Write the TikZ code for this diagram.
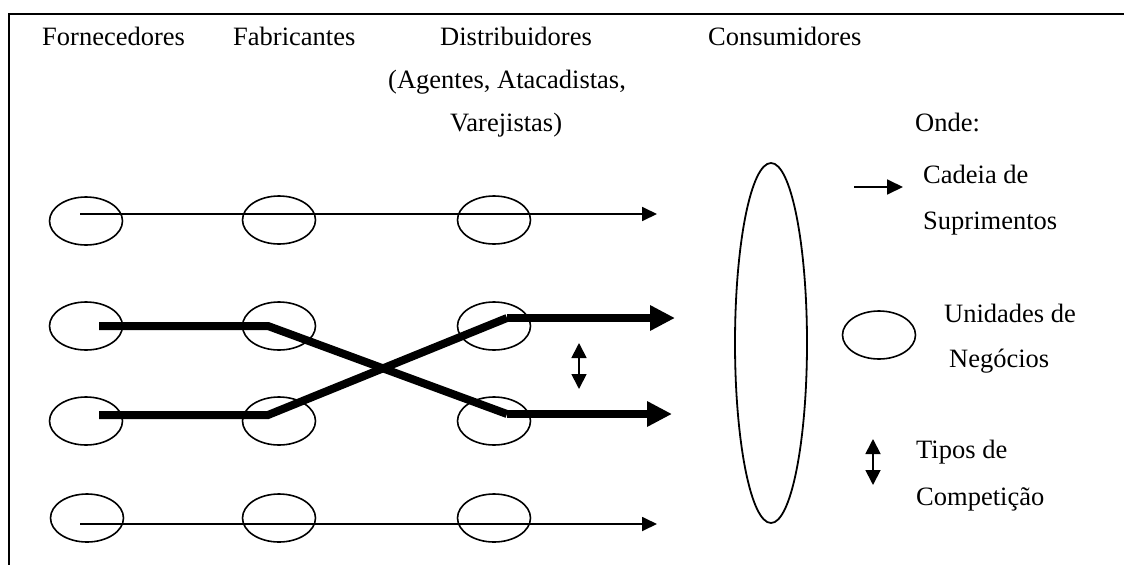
\documentclass[tikz,border=0pt]{standalone}
\usepackage{fontspec}
\setmainfont{Liberation Serif}
\usetikzlibrary{arrows.meta,shapes.geometric}
\begin{document}
\begin{tikzpicture}[x=1pt,y=-1pt,
  unit/.style={draw,ellipse,line width=1.6pt,minimum width=73pt,minimum height=48pt,inner sep=0pt},
  lbl/.style={anchor=base west,inner sep=0pt,font=\fontsize{26.5}{30}\selectfont},
  thinarrow/.style={line width=1.8pt,-{Triangle[length=15pt,width=14pt]}},
  thickline/.style={line width=8pt,line join=miter},
  thickarrow/.style={line width=8pt,line join=miter,-{Triangle[length=25pt,width=24pt]}},
  dblarrow/.style={line width=1.8pt,{Triangle[length=15pt,width=15pt]}-{Triangle[length=15pt,width=15pt]}}]
\useasboundingbox (0,0) rectangle (1124,565);
% frame
\draw[line width=2pt] (1124,14) -- (9,14) -- (9,565);
% headers
\node[lbl] (h1) at (42,45) {Fornecedores};
\node[lbl] (h2) at (233,45) {Fabricantes};
\node[lbl] (h3) at (440,45) {Distribuidores};
\node[lbl] (h3b) at (388,88) {(Agentes, Atacadistas,};
\node[lbl] (h3c) at (450,131) {Varejistas)};
\node[lbl] (h4) at (708,45) {Consumidores};
% units
\node[unit] (a1) at (86,221) {};
\node[unit] (b1) at (279,220) {};
\node[unit] (c1) at (494,220) {};
\node[unit] (a2) at (86,326) {};
\node[unit] (b2) at (279,326) {};
\node[unit] (c2) at (494,326) {};
\node[unit] (a3) at (86,421) {};
\node[unit] (b3) at (279,421) {};
\node[unit] (c3) at (494,421) {};
\node[unit] (a4) at (87,518) {};
\node[unit] (b4) at (279,518) {};
\node[unit] (c4) at (494,518) {};
% consumers
\node[draw,ellipse,line width=1.8pt,minimum width=72pt,minimum height=360pt,inner sep=0pt] (cons) at (771,343) {};
% thin chains
\coordinate (s1) at (80,214);
\coordinate (e1) at (657,214);
\draw[thinarrow] (s1) -- (e1);
\coordinate (s4) at (80,524);
\coordinate (e4) at (657,524);
\draw[thinarrow] (s4) -- (e4);
% thick crossing chains
\coordinate (s2) at (99,326);
\coordinate (k2) at (268,326);
\coordinate (m2) at (507,414);
\coordinate (e2) at (672,414);
\coordinate (s3) at (99,415);
\coordinate (k3) at (268,415);
\coordinate (m3) at (507,318);
\coordinate (e3) at (675,318);
\draw[thickline] (s2) -- (k2) -- (m2);
\draw[thickarrow] (m2) -- (e2);
\draw[thickline] (s3) -- (k3) -- (m3);
\draw[thickarrow] (m3) -- (e3);
% competition
\coordinate (d1) at (579,343);
\coordinate (d2) at (579,389);
\draw[dblarrow] (d1) -- (d2);
% legend
\node[lbl] (onde) at (915,131) {Onde:};
\coordinate (la1) at (854,187);
\coordinate (la2) at (903,187);
\draw[line width=1.8pt,-{Triangle[length=16pt,width=15pt]}] (la1) -- (la2);
\node[lbl] (l1) at (923,183) {Cadeia de};
\node[lbl] (l1b) at (923,229) {Suprimentos};
\node[unit] (lu) at (879,335) {};
\node[lbl] (l2) at (944,322) {Unidades de};
\node[lbl] (l2b) at (949,367) {Negócios};
\coordinate (ld1) at (873,439);
\coordinate (ld2) at (873,485);
\draw[dblarrow] (ld1) -- (ld2);
\node[lbl] (l3) at (916,458) {Tipos de};
\node[lbl] (l3b) at (916,505) {Competição};
\end{tikzpicture}
\end{document}
